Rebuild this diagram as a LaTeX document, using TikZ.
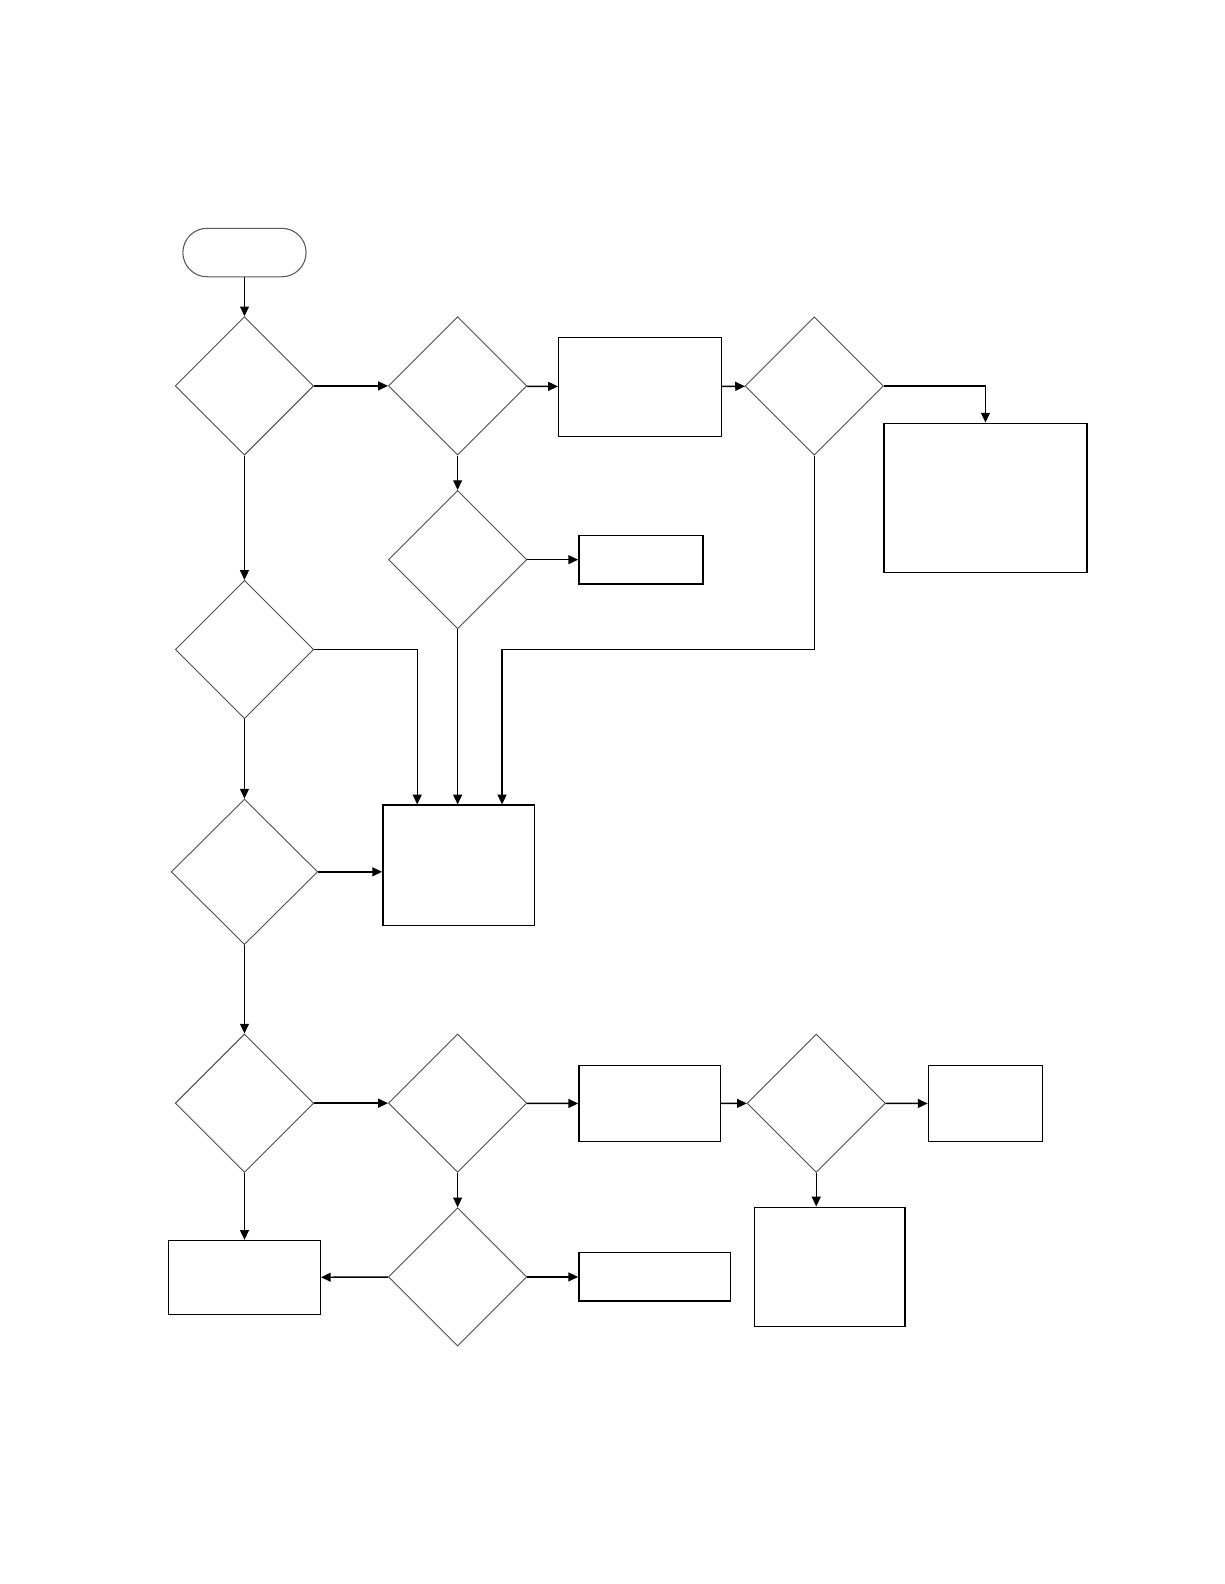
\documentclass[tikz,border=0pt]{standalone}
\usetikzlibrary{shapes.geometric,arrows.meta}
\begin{document}
\begin{tikzpicture}[
    x=0.02cm, y=-0.02cm,
    box/.style={draw, line width=0.8pt, inner sep=0pt},
    term/.style={draw=gray!70!black, line width=0.6pt, rounded corners=0.48cm, minimum width=2.44cm, minimum height=0.96cm, inner sep=0pt},
    test/.style={diamond, aspect=1, draw=gray!60!black, line width=0.5pt, minimum width=2.74cm, minimum height=2.74cm, inner sep=0pt},
    arr/.style={-{Triangle[length=5.5pt,width=5pt]}, line width=0.8pt},
  ]
    \useasboundingbox (0,0) rectangle (1212,1568);

    % === upper part ===
    \node[term] (start) at (242,250) {};
    \node[test] (d1) at (242,382) {};
    \node[test] (d2) at (453,382) {};
    \node[box, minimum width=3.22cm, minimum height=1.96cm] (r1) at (633.5,383) {};
    \node[test] (d3) at (806,382) {};
    \node[box, minimum width=4.02cm, minimum height=2.96cm] (r2) at (975.5,493) {};
    \node[test] (d4) at (453,554) {};
    \node[box, minimum width=2.46cm, minimum height=0.96cm] (r3) at (634.5,554) {};
    \node[test] (d5) at (242,643) {};
    \node[test, minimum width=2.9cm, minimum height=2.88cm] (d6) at (242,863) {};
    \node[box, minimum width=3.0cm, minimum height=2.38cm] (r4) at (454,856.5) {};
    \coordinate (jn) at (806,643);

    \draw[arr] (start) -- (d1);
    \draw[arr] (d1) -- (d2);
    \draw[arr] (d2) -- (r1);
    \draw[arr] (r1) -- (d3);
    \draw[arr] (d3.east) -| (r2.north);
    \draw[arr] (d2) -- (d4);
    \draw[arr] (d4) -- (r3);
    \draw[arr] (d1) -- (d5);
    \draw[arr] (d5) -- (d6);
    \draw[arr] (d5.east) -| ([xshift=-0.82cm]r4.north);
    \draw[arr] (d4.south) -- (d4.south |- r4.north);
    \draw[arr] (d3.south) -- (jn) -| ([xshift=0.86cm]r4.north);
    \draw[arr] (d6.east) -- (d6.east -| r4.west);

    % === lower part ===
    \node[test] (d7) at (242,1092) {};
    \node[test] (d8) at (453,1092) {};
    \node[box, minimum width=2.8cm, minimum height=1.5cm] (r5) at (643,1092.5) {};
    \node[test] (d9) at (808,1092) {};
    \node[box, minimum width=2.26cm, minimum height=1.5cm] (r6) at (975.5,1092.5) {};
    \node[box, minimum width=2.98cm, minimum height=2.36cm] (r7) at (821.5,1254) {};
    \node[test] (d10) at (453,1264) {};
    \node[box, minimum width=3.0cm, minimum height=1.46cm] (r8) at (242,1264.5) {};
    \node[box, minimum width=3.0cm, minimum height=0.96cm] (r9) at (648,1264) {};

    \draw[arr] (d6) -- (d7);
    \draw[arr] (d7) -- (d8);
    \draw[arr] (d8) -- (r5);
    \draw[arr] (r5) -- (d9);
    \draw[arr] (d9) -- (r6);
    \draw[arr] (d9.south) -- (d9.south |- r7.north);
    \draw[arr] (d8) -- (d10);
    \draw[arr] (d7) -- (r8);
    \draw[arr] (d10) -- (r8);
    \draw[arr] (d10) -- (r9);
  \end{tikzpicture}
\end{document}
